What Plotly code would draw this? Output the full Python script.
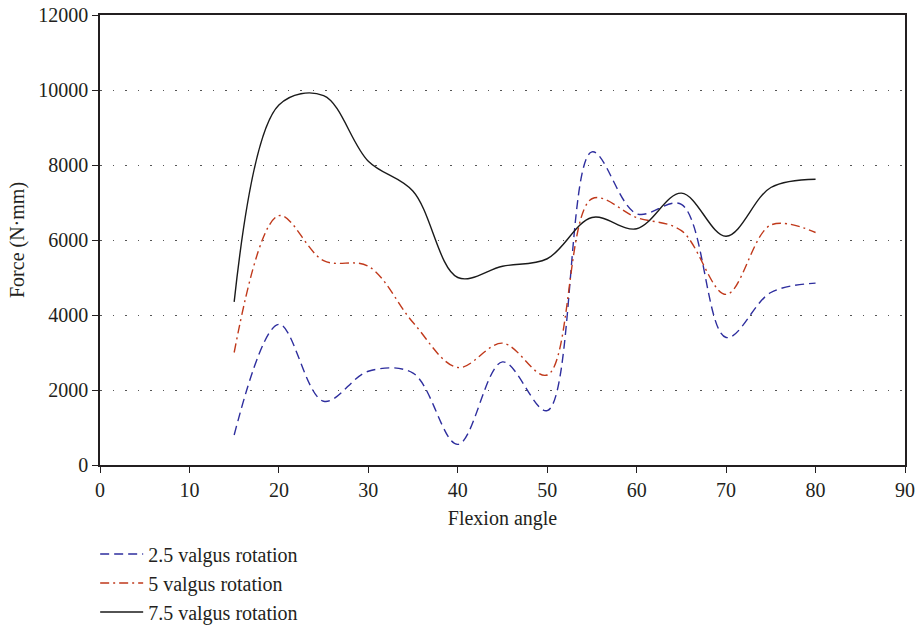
import plotly.graph_objects as go

flexion = [15, 20, 25, 30, 35, 40, 45, 50, 55, 60, 65, 70, 75, 80]
valgus_25 = [800, 3750, 1700, 2500, 2450, 550, 2750, 1450, 8350, 6700, 6950, 3400, 4600, 4850]
valgus_5 = [3000, 6650, 5450, 5300, 3800, 2600, 3250, 2400, 7100, 6600, 6250, 4550, 6400, 6200]
valgus_75 = [4350, 9600, 9850, 8100, 7300, 5000, 5300, 5500, 6600, 6300, 7250, 6100, 7400, 7620]

y_ticks = [0, 2000, 4000, 6000, 8000, 10000, 12000]
x_ticks = [0, 10, 20, 30, 40, 50, 60, 70, 80, 90]

names = ["2.5 valgus rotation", "5 valgus rotation", "7.5 valgus rotation"]
colors = ["#2e2e9e", "#c0391b", "#1a1a1a"]
dashes = ["9px,5px", "9px,4px,2px,4px", "solid"]
series = [valgus_25, valgus_5, valgus_75]

FONT = "Liberation Serif"
TXT = "#231f20"

fig = go.Figure()
for n, c, d, ys in zip(names, colors, dashes, series):
    fig.add_trace(go.Scatter(
        x=flexion, y=ys, name=n, mode="lines",
        line=dict(color=c, dash=d, width=1.4, shape="spline", smoothing=1.0),
    ))

fig.update_layout(
    width=917, height=631,
    margin=dict(l=100, r=12, t=15, b=166),
    paper_bgcolor="white", plot_bgcolor="white",
    font=dict(family=FONT, size=20, color=TXT),
    showlegend=True,
    legend=dict(x=-0.006, y=0.153, xanchor="left", yanchor="top", yref="container",
                font=dict(family=FONT, size=20, color=TXT),
                bgcolor="rgba(0,0,0,0)", tracegroupgap=0, itemwidth=43),
)
fig.update_xaxes(
    range=[0, 90], tickvals=x_ticks, ticktext=[str(v) for v in x_ticks],
    showline=True, linecolor=TXT, linewidth=1.5, mirror=True,
    ticks="outside", ticklen=6, tickcolor=TXT,
    showgrid=False, zeroline=False, automargin=False,
    title=dict(text="Flexion angle", font=dict(size=20), standoff=11),
)
fig.update_yaxes(
    range=[0, 12000], tickvals=y_ticks, ticktext=[str(v) for v in y_ticks],
    showline=True, linecolor=TXT, linewidth=1.5, mirror=True,
    ticks="outside", ticklen=6, tickcolor=TXT,
    showgrid=True, gridcolor="#555555", gridwidth=1.2, griddash="1.5px,11px",
    zeroline=False, automargin=False,
    title=dict(text="Force (N·mm)", font=dict(size=20), standoff=8),
)
fig.write_html("out.html")
